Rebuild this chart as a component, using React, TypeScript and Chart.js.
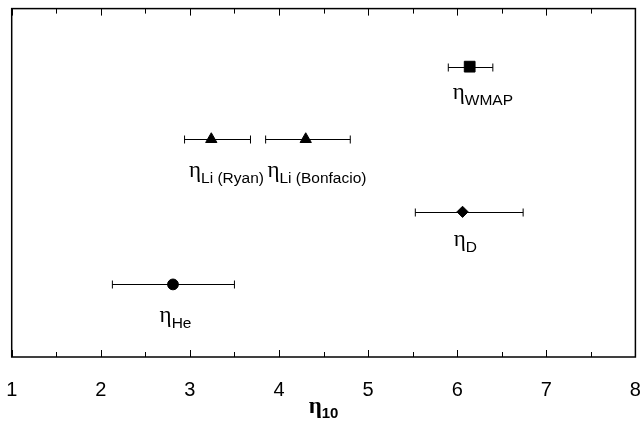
import React, { useEffect, useRef } from 'react';
import { Chart, registerables } from 'chart.js';

Chart.register(...registerables);

// ---- data ----
const names = ['WMAP', 'Li (Ryan)', 'Li (Bonfacio)', 'D', 'He'];
const centers = [6.14, 3.24, 4.3, 6.06, 2.81];
const lows = [5.9, 2.94, 3.85, 5.53, 2.13];
const highs = [6.4, 3.68, 4.8, 6.74, 3.5];
const rows = [4, 3, 3, 2, 1];
const labelXs = [5.95, 2.99, 3.87, 5.96, 2.66];
const labelYs = [3.47, 2.4, 2.4, 1.44, 0.4];
const markers = ['rect', 'triangle', 'triangle', 'rectRot', 'circle'];
const markerSizes = [7.6, 6.5, 6.5, 5.6, 5.4];
const xMin = 1;
const xMax = 8;
const yMin = 0;
const yMax = 4.8;
const axisSymbol = 'η';
const axisSub = '10';

const overlay = {
  id: 'overlay',
  beforeDatasetsDraw(chart: any) {
    const { ctx, scales } = chart;
    const x = scales.x;
    const y = scales.y;
    ctx.save();
    ctx.strokeStyle = '#000';
    ctx.lineWidth = 1;
    for (let i = 0; i < rows.length; i++) {
      const py = Math.round(y.getPixelForValue(rows[i])) + 0.5;
      const x1 = x.getPixelForValue(lows[i]);
      const x2 = x.getPixelForValue(highs[i]);
      ctx.beginPath();
      ctx.moveTo(x1, py);
      ctx.lineTo(x2, py);
      ctx.moveTo(x1, py - 4);
      ctx.lineTo(x1, py + 4);
      ctx.moveTo(x2, py - 4);
      ctx.lineTo(x2, py + 4);
      ctx.stroke();
    }
    ctx.restore();
  },
  afterDraw(chart: any) {
    const { ctx, chartArea, scales } = chart;
    const x = scales.x;
    const y = scales.y;
    const { left, right, top, bottom } = chartArea;
    ctx.save();
    // frame
    ctx.strokeStyle = '#000';
    ctx.lineWidth = 1.5;
    ctx.strokeRect(left, top, right - left, bottom - top);
    // inward ticks
    ctx.lineWidth = 1;
    ctx.beginPath();
    const ticks = x.ticks.map((t: any) => t.value);
    ticks.forEach((v: number, idx: number) => {
      const px = Math.round(x.getPixelForValue(v)) + 0.5;
      ctx.moveTo(px, bottom);
      ctx.lineTo(px, bottom - 7);
      ctx.moveTo(px, top);
      ctx.lineTo(px, top + 7);
      if (idx < ticks.length - 1) {
        const mv = (v + ticks[idx + 1]) / 2;
        const mx = Math.round(x.getPixelForValue(mv)) + 0.5;
        ctx.moveTo(mx, bottom);
        ctx.lineTo(mx, bottom - 5);
        ctx.moveTo(mx, top);
        ctx.lineTo(mx, top + 5);
      }
    });
    ctx.stroke();
    // point labels
    ctx.fillStyle = '#000';
    ctx.textAlign = 'left';
    ctx.textBaseline = 'alphabetic';
    for (let i = 0; i < names.length; i++) {
      const lx = x.getPixelForValue(labelXs[i]);
      const ly = y.getPixelForValue(labelYs[i]);
      ctx.font = '23px "Liberation Serif"';
      ctx.fillText('η', lx, ly - 6);
      const w = ctx.measureText('η').width;
      ctx.font = '15.5px "Liberation Sans"';
      ctx.fillText(names[i], lx + w, ly);
    }
    // axis title
    ctx.font = 'bold 23px "Liberation Serif"';
    const w1 = ctx.measureText(axisSymbol).width;
    ctx.font = 'bold 15px "Liberation Sans"';
    const w2 = ctx.measureText(axisSub).width;
    const cx = (left + right) / 2;
    const sx = cx - (w1 + w2) / 2;
    const base = x.bottom - 21;
    ctx.font = 'bold 23px "Liberation Serif"';
    ctx.fillText(axisSymbol, sx, base);
    ctx.font = 'bold 15px "Liberation Sans"';
    ctx.fillText(axisSub, sx + w1, base + 5);
    ctx.restore();
  },
};

export default function App() {
  const ref = useRef<HTMLCanvasElement | null>(null);
  useEffect(() => {
    if (!ref.current) return;
    const chart = new Chart(ref.current, {
      type: 'scatter',
      data: {
        datasets: [
          {
            data: centers.map((c, i) => ({ x: c, y: rows[i] })),
            pointStyle: markers as any,
            pointRadius: markerSizes,
            pointHoverRadius: markerSizes,
            backgroundColor: '#000',
            borderColor: '#000',
            borderWidth: 1,
            showLine: false,
          },
        ],
      },
      options: {
        animation: false,
        responsive: false,
        events: [],
        layout: { padding: { left: 11.7, right: 7, top: 6.7, bottom: 0 } },
        plugins: {
          legend: { display: false },
          tooltip: { enabled: false },
          title: { display: false },
        },
        scales: {
          x: {
            type: 'linear',
            min: xMin,
            max: xMax,
            grid: { display: false, drawTicks: false },
            border: { display: false },
            ticks: {
              stepSize: 1,
              color: '#000',
              padding: 21,
              font: { family: '"Liberation Sans"', size: 20 },
            },
            afterFit: (scale: any) => {
              scale.height = 77;
              scale.paddingLeft = 0;
              scale.paddingRight = 0;
            },
          },
          y: {
            type: 'linear',
            display: false,
            min: yMin,
            max: yMax,
          },
        },
      },
      plugins: [overlay],
    });
    return () => chart.destroy();
  }, []);
  return (
    <div style={{ position: 'absolute', left: 0, top: 0, width: 644, height: 434 }}>
      <canvas ref={ref} width={644} height={434} />
    </div>
  );
}
